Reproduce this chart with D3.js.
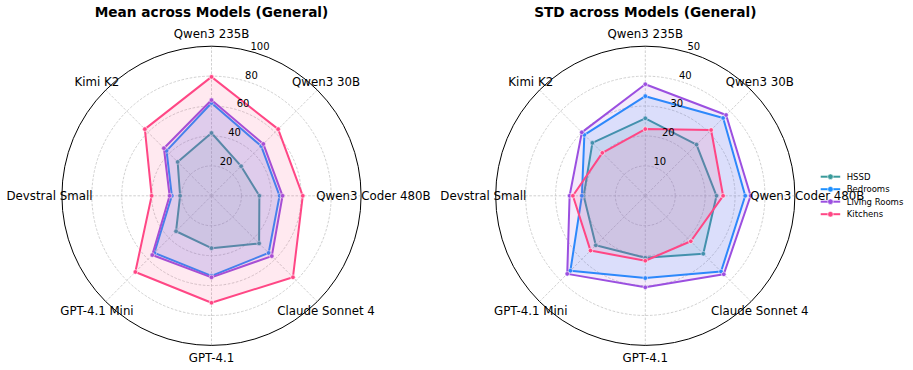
<!DOCTYPE html>
<html>
<head>
<meta charset="utf-8">
<script src="https://cdn.jsdelivr.net/npm/d3@7"></script>
<style>
    html, body { margin: 0; padding: 0; background: white; }
    svg { display: block; font-family: "DejaVu Sans", sans-serif; }
</style>
</head>
<body>
<svg id="radarSvg"></svg>
<script>
// categories, clockwise from the top
const categories = ["Qwen3 235B", "Qwen3 30B", "Qwen3 Coder 480B", "Claude Sonnet 4", "GPT-4.1", "GPT-4.1 Mini", "Devstral Small", "Kimi K2"];
const rooms = ["HSSD", "Bedrooms", "Living Rooms", "Kitchens"];
const roomColors = ["#3a9b9b", "#1e90ff", "#9b4fe0", "#ff4785"];

// mean across models
const meanHSSD = [42, 28, 32, 45, 35, 33.5, 21, 32];
const meanBedrooms = [62, 47, 45.5, 54, 53.5, 54, 26.5, 42.5];
const meanLivingRooms = [64, 49, 47.5, 57, 54.5, 56, 28, 45];
const meanKitchens = [79.5, 63, 61, 77, 71.5, 72, 40, 63];
const meanTicks = [20, 40, 60, 80, 100];

// std across models
const stdHSSD = [25.9, 24.2, 23.8, 27.4, 20.7, 23.4, 20.6, 25];
const stdBedrooms = [33.3, 36.8, 33.4, 35.8, 27.5, 35.4, 21.2, 28.8];
const stdLivingRooms = [37.3, 38.2, 35.2, 37.1, 30.6, 36.9, 25.3, 30];
const stdKitchens = [22.3, 31.1, 26, 21.5, 21.7, 25.9, 24.2, 20.3];
const stdTicks = [10, 20, 30, 40, 50];

window.onload = () =>
{
    let width = 913;
    let height = 370;
    let radius = 149.6;
    let labelRadius = 162;

    let charts = [
        {title: "Mean across Models (General)", cx: 211.5, cy: 195.8, ticks: meanTicks,
            series: [meanHSSD, meanBedrooms, meanLivingRooms, meanKitchens]},
        {title: "STD across Models (General)", cx: 645.3, cy: 195.8, ticks: stdTicks,
            series: [stdHSSD, stdBedrooms, stdLivingRooms, stdKitchens]}
    ];

    let svg = d3.select("#radarSvg")
        .attr("width", width)
        .attr("height", height)
        .attr("viewBox", [0, 0, width, height]);

    svg.append("rect").attr("width", width).attr("height", height).attr("fill", "white");

    charts.forEach(c => radar(svg, c));
    legend(svg);


    function radar(svg, chart)
    {
        let g = svg.append("g").attr("transform", `translate(${chart.cx},${chart.cy})`);
        let max = d3.max(chart.ticks);

        let r = d3.scaleLinear([0, max], [0, radius]);
        let angle = d3.scaleLinear([0, categories.length], [0, 2 * Math.PI]);

        // grid circles
        g.append("g")
            .selectAll("circle")
            .data(chart.ticks.slice(0, -1))
            .join("circle")
            .attr("r", d => r(d))
            .attr("fill", "none")
            .attr("stroke", "#c4c4c4")
            .attr("stroke-width", 0.8)
            .attr("stroke-dasharray", "2.6,1.6");

        // spokes
        g.append("g")
            .selectAll("line")
            .data(categories)
            .join("line")
            .attr("x1", 0)
            .attr("y1", 0)
            .attr("x2", (d, i) => r(max) * Math.sin(angle(i)))
            .attr("y2", (d, i) => -r(max) * Math.cos(angle(i)))
            .attr("stroke", "#c4c4c4")
            .attr("stroke-width", 0.8)
            .attr("stroke-dasharray", "2.6,1.6");

        // outer frame
        g.append("circle")
            .attr("r", r(max))
            .attr("fill", "none")
            .attr("stroke", "black")
            .attr("stroke-width", 1);

        let area = d3.areaRadial()
            .angle((d, i) => angle(i))
            .innerRadius(0)
            .outerRadius(d => r(d))
            .curve(d3.curveLinearClosed);

        let line = d3.lineRadial()
            .angle((d, i) => angle(i))
            .radius(d => r(d))
            .curve(d3.curveLinearClosed);

        chart.series.forEach((values, k) =>
        {
            let s = g.append("g");
            s.append("path")
                .attr("d", area(values))
                .attr("fill", roomColors[k])
                .attr("fill-opacity", 0.12);
            s.append("path")
                .attr("d", line(values))
                .attr("fill", "none")
                .attr("stroke", roomColors[k])
                .attr("stroke-width", 2)
                .attr("stroke-linejoin", "round");
            s.selectAll("circle")
                .data(values)
                .join("circle")
                .attr("cx", (d, i) => r(d) * Math.sin(angle(i)))
                .attr("cy", (d, i) => -r(d) * Math.cos(angle(i)))
                .attr("r", 2.3)
                .attr("fill", roomColors[k])
                .attr("stroke", "white")
                .attr("stroke-width", 0.6);
        });

        // radial tick labels
        let labelAngle = 16.5 * Math.PI / 180;
        g.append("g")
            .style("font-size", "10px")
            .attr("text-anchor", "middle")
            .selectAll("text")
            .data(chart.ticks)
            .join("text")
            .attr("x", d => r(d) * Math.sin(labelAngle) + 6)
            .attr("y", d => -r(d) * Math.cos(labelAngle) - 6)
            .attr("dy", "0.35em")
            .text(d => d);

        // category labels
        g.append("g")
            .style("font-size", "11.8px")
            .attr("text-anchor", "middle")
            .selectAll("text")
            .data(categories)
            .join("text")
            .attr("x", (d, i) => labelRadius * Math.sin(angle(i)))
            .attr("y", (d, i) => -labelRadius * Math.cos(angle(i)))
            .attr("dy", "0.36em")
            .text(d => d);

        svg.append("text")
            .attr("x", chart.cx)
            .attr("y", 17)
            .attr("text-anchor", "middle")
            .style("font-size", "13.7px")
            .style("font-weight", "bold")
            .text(chart.title);
    }


    function legend(svg)
    {
        let g = svg.append("g").attr("transform", "translate(820.7,176.7)");
        let rowHeight = 12.5;

        let row = g.selectAll("g")
            .data(rooms)
            .join("g")
            .attr("transform", (d, i) => `translate(0,${i * rowHeight})`);

        row.append("line")
            .attr("x1", 0)
            .attr("x2", 19.5)
            .attr("stroke", (d, i) => roomColors[i])
            .attr("stroke-width", 2);

        row.append("circle")
            .attr("cx", 9.75)
            .attr("r", 2.8)
            .attr("fill", (d, i) => roomColors[i])
            .attr("stroke", "white")
            .attr("stroke-width", 0.6);

        row.append("text")
            .attr("x", 26)
            .attr("dy", "0.35em")
            .style("font-size", "8.5px")
            .text(d => d);
    }
}
</script>
</body>
</html>
